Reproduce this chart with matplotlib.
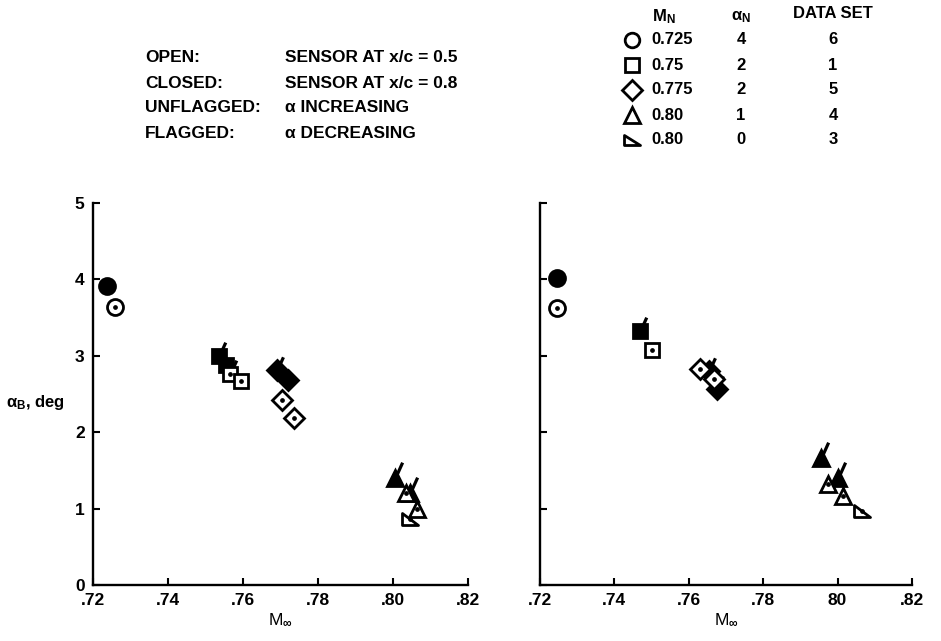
import matplotlib
matplotlib.use('Agg')
import matplotlib.pyplot as plt
from matplotlib.path import Path

plt.rcParams['font.family'] = ['Liberation Sans', 'DejaVu Sans']
plt.rcParams['font.weight'] = 'bold'
plt.rcParams['mathtext.fontset'] = 'custom'
plt.rcParams['mathtext.rm'] = 'Liberation Sans:bold'
plt.rcParams['mathtext.bf'] = 'Liberation Sans:bold'
plt.rcParams['mathtext.it'] = 'Liberation Sans:bold'
plt.rcParams['mathtext.default'] = 'rm'

# ---------------- data ----------------
x_ticks = [0.72, 0.74, 0.76, 0.78, 0.80, 0.82]
x_ticklabels_left = ['.72', '.74', '.76', '.78', '.80', '.82']
x_ticklabels_right = ['.72', '.74', '.76', '.78', '80', '.82']
y_ticks = [0, 1, 2, 3, 4, 5]

# left panel (sensor symbols) : filled = closed, open = open
L_circ_fill_x = [0.7236]; L_circ_fill_y = [3.91]; L_circ_fill_flag = [0]
L_circ_open_x = [0.7259]; L_circ_open_y = [3.64]; L_circ_open_flag = [0]
L_sq_fill_x = [0.7535, 0.7555]; L_sq_fill_y = [3.00, 2.88]; L_sq_fill_flag = [1, 0]
L_sq_open_x = [0.7565, 0.7595]; L_sq_open_y = [2.76, 2.67]; L_sq_open_flag = [1, 0]
L_dia_fill_x = [0.7690, 0.7720]; L_dia_fill_y = [2.82, 2.68]; L_dia_fill_flag = [1, 0]
L_dia_open_x = [0.7705, 0.7735]; L_dia_open_y = [2.42, 2.19]; L_dia_open_flag = [0, 0]
L_tri_fill_x = [0.8005, 0.8045]; L_tri_fill_y = [1.40, 1.20]; L_tri_fill_flag = [1, 1]
L_tri_open_x = [0.8035, 0.8065]; L_tri_open_y = [1.20, 1.00]; L_tri_open_flag = [0, 0]
L_rtri_open_x = [0.8045]; L_rtri_open_y = [0.87]; L_rtri_open_flag = [0]

# right panel
R_circ_fill_x = [0.7245]; R_circ_fill_y = [4.02]; R_circ_fill_flag = [0]
R_circ_open_x = [0.7245]; R_circ_open_y = [3.63]; R_circ_open_flag = [0]
R_sq_fill_x = [0.7470]; R_sq_fill_y = [3.33]; R_sq_fill_flag = [1]
R_sq_open_x = [0.7500]; R_sq_open_y = [3.07]; R_sq_open_flag = [0]
R_dia_fill_x = [0.7655, 0.7675]; R_dia_fill_y = [2.80, 2.57]; R_dia_fill_flag = [1, 1]
R_dia_open_x = [0.7630, 0.7668]; R_dia_open_y = [2.83, 2.70]; R_dia_open_flag = [0, 0]
R_tri_fill_x = [0.7955, 0.8000]; R_tri_fill_y = [1.66, 1.40]; R_tri_fill_flag = [1, 1]
R_tri_open_x = [0.7975, 0.8015]; R_tri_open_y = [1.32, 1.17]; R_tri_open_flag = [0, 0]
R_rtri_open_x = [0.8065]; R_rtri_open_y = [0.97]; R_rtri_open_flag = [0]

legend_MN = ['0.725', '0.75', '0.775', '0.80', '0.80']
legend_aN = ['4', '2', '2', '1', '0']
legend_set = ['6', '1', '5', '4', '3']

header_left = ['OPEN:', 'CLOSED:', 'UNFLAGGED:', 'FLAGGED:']
header_right = ['SENSOR AT x/c = 0.5', 'SENSOR AT x/c = 0.8',
                'α INCREASING', 'α DECREASING']

# ---------------- styles ----------------
rtri = Path([(-1, 0.7), (-1, -0.7), (1, -0.7), (-1, 0.7)],
            [Path.MOVETO, Path.LINETO, Path.LINETO, Path.CLOSEPOLY])
flag = Path([(0, 0), (0.45, 1.0)], [Path.MOVETO, Path.LINETO])
mk = {'circ': ('o', 11.5), 'sq': ('s', 10.5), 'dia': ('D', 10), 'tri': ('^', 12),
      'rtri': (rtri, 12)}
leg_mk = {'circ': ('o', 10.5), 'sq': ('s', 10), 'dia': ('D', 10), 'tri': ('^', 11),
          'rtri': (rtri, 11)}
EW = 2.0
FS = 12

W, H = 941, 641
fig = plt.figure(figsize=(W / 100, H / 100), dpi=100)


def fx(px):
    return px / W


def fy(py):
    return 1 - py / H


axL = fig.add_axes([fx(93), fy(585), 375 / W, 382 / H])
axR = fig.add_axes([fx(540), fy(585), 372 / W, 382 / H])


def draw(ax, kind, xs, ys, flags, filled):
    m, ms = mk[kind]
    fx_ = [x for x, f in zip(xs, flags) if f]
    fy_ = [y for y, f in zip(ys, flags) if f]
    if fx_:
        ax.plot(fx_, fy_, ls='none', marker=flag, ms=ms * 1.9, mew=2.3,
                mec='black', zorder=2, clip_on=False)
    if filled:
        ax.plot(xs, ys, ls='none', marker=m, ms=ms, mfc='black', mec='black',
                mew=EW, zorder=3, clip_on=False)
    else:
        ax.plot(xs, ys, ls='none', marker=m, ms=ms, mfc='white', mec='black',
                mew=EW, zorder=4, clip_on=False)
        ax.plot(xs, ys, ls='none', marker='o', ms=2.4, mfc='black',
                mec='black', zorder=5, clip_on=False)


draw(axL, 'circ', L_circ_fill_x, L_circ_fill_y, L_circ_fill_flag, True)
draw(axL, 'sq', L_sq_fill_x, L_sq_fill_y, L_sq_fill_flag, True)
draw(axL, 'dia', L_dia_fill_x, L_dia_fill_y, L_dia_fill_flag, True)
draw(axL, 'tri', L_tri_fill_x, L_tri_fill_y, L_tri_fill_flag, True)
draw(axL, 'circ', L_circ_open_x, L_circ_open_y, L_circ_open_flag, False)
draw(axL, 'sq', L_sq_open_x, L_sq_open_y, L_sq_open_flag, False)
draw(axL, 'dia', L_dia_open_x, L_dia_open_y, L_dia_open_flag, False)
draw(axL, 'tri', L_tri_open_x, L_tri_open_y, L_tri_open_flag, False)
draw(axL, 'rtri', L_rtri_open_x, L_rtri_open_y, L_rtri_open_flag, False)

draw(axR, 'circ', R_circ_fill_x, R_circ_fill_y, R_circ_fill_flag, True)
draw(axR, 'sq', R_sq_fill_x, R_sq_fill_y, R_sq_fill_flag, True)
draw(axR, 'dia', R_dia_fill_x, R_dia_fill_y, R_dia_fill_flag, True)
draw(axR, 'tri', R_tri_fill_x, R_tri_fill_y, R_tri_fill_flag, True)
draw(axR, 'circ', R_circ_open_x, R_circ_open_y, R_circ_open_flag, False)
draw(axR, 'sq', R_sq_open_x, R_sq_open_y, R_sq_open_flag, False)
draw(axR, 'dia', R_dia_open_x, R_dia_open_y, R_dia_open_flag, False)
draw(axR, 'tri', R_tri_open_x, R_tri_open_y, R_tri_open_flag, False)
draw(axR, 'rtri', R_rtri_open_x, R_rtri_open_y, R_rtri_open_flag, False)

for ax, xl in ((axL, x_ticklabels_left), (axR, x_ticklabels_right)):
    ax.set_xlim(0.72, 0.82)
    ax.set_ylim(0, 5)
    for s in ('top', 'right'):
        ax.spines[s].set_visible(False)
    for s in ('left', 'bottom'):
        ax.spines[s].set_linewidth(1.7)
    ax.set_xticks(x_ticks)
    ax.set_xticklabels(xl)
    ax.set_yticks(y_ticks)
    ax.tick_params(direction='in', length=5, width=1.5, labelsize=12.5,
                   pad=6)
    ax.set_xlabel(r'M$_{\infty}$', fontsize=12.5, labelpad=2)
    for lab in ax.get_xticklabels() + ax.get_yticklabels():
        lab.set_fontweight('bold')

axL.set_yticklabels([str(v) for v in y_ticks])
axR.set_yticklabels([])

fig.text(fx(6), fy(402), r'α$_{\mathrm{B}}$, deg', fontsize=FS,
         ha='left', va='center')

# header text
rows_left = [58, 83, 108, 134]
for t1, t2, yy in zip(header_left, header_right, rows_left):
    fig.text(fx(145), fy(yy), t1, fontsize=12.5, ha='left', va='center')
    fig.text(fx(285), fy(yy), t2, fontsize=12.5, ha='left', va='center')

# legend table
ov = fig.add_axes([0, 0, 1, 1], zorder=-1)
ov.set_xlim(0, W)
ov.set_ylim(H, 0)
ov.axis('off')
fig.text(fx(652), fy(17), r'M$_{\mathrm{N}}$', fontsize=FS, ha='left', va='center')
fig.text(fx(741), fy(17), r'α$_{\mathrm{N}}$', fontsize=FS, ha='center', va='center')
fig.text(fx(833), fy(14), 'DATA SET', fontsize=FS, ha='center', va='center')
leg_rows = [40, 65, 90, 115, 140]
leg_kinds = ['circ', 'sq', 'dia', 'tri', 'rtri']
for k, mn, an, ds, yy in zip(leg_kinds, legend_MN, legend_aN, legend_set, leg_rows):
    m, ms = leg_mk[k]
    ov.plot([632], [yy], ls='none', marker=m, ms=ms, mfc='white', mec='black',
            mew=EW, clip_on=False)
    fig.text(fx(651), fy(yy), mn, fontsize=FS, ha='left', va='center')
    fig.text(fx(741), fy(yy), an, fontsize=FS, ha='center', va='center')
    fig.text(fx(833), fy(yy), ds, fontsize=FS, ha='center', va='center')

fig.savefig('out.png', dpi=100)
